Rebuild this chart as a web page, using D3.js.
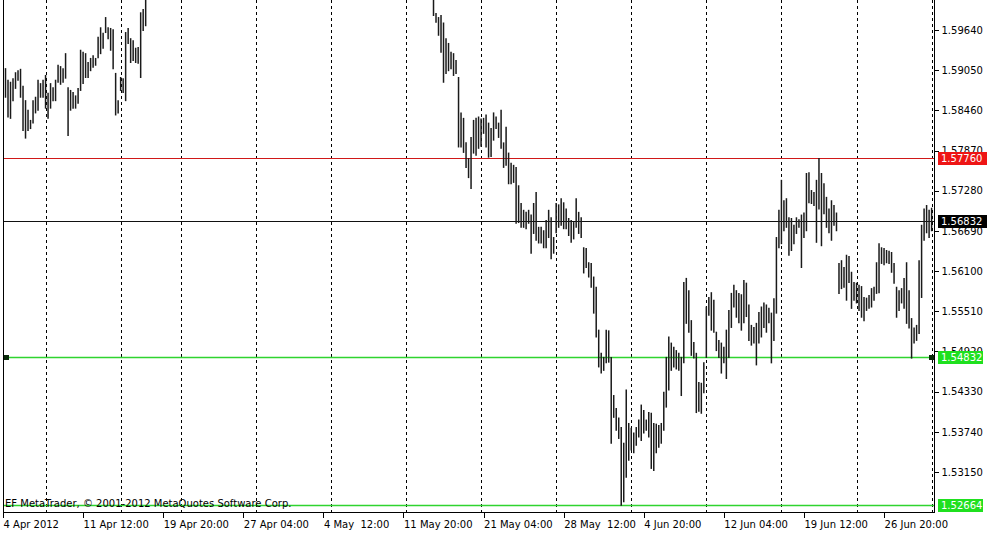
<!DOCTYPE html>
<html>
<head>
<meta charset="utf-8">
<title>GBPUSD H4</title>
<script src="https://cdn.jsdelivr.net/npm/d3@7"></script>
<style>
	body { margin: 0; background: #fff; }
	svg text { font-family: "DejaVu Sans", sans-serif; font-size: 10px; }
</style>
</head>
<body>
<svg id="chart" width="1001" height="538"></svg>
<script>
'use strict';

// H4 bars, one per 4 hours, first bar 4 Apr 2012 00:00
var highs = [
	1.5905, 1.5908, 1.5891, 1.5888, 1.5893, 1.5902, 1.5905, 1.5907, 1.5882, 1.5861,
	1.5847, 1.5832, 1.5861, 1.5866, 1.5891, 1.5886, 1.5891, 1.5898, 1.5872, 1.5886,
	1.5880, 1.5891, 1.5913, 1.5911, 1.5908, 1.5930, 1.5880, 1.5876, 1.5873, 1.5868,
	1.5879, 1.5935, 1.5932, 1.5930, 1.5917, 1.5923, 1.5927, 1.5923, 1.5954, 1.5968,
	1.5960, 1.5983, 1.5968, 1.5967, 1.5965, 1.5901, 1.5861, 1.5895, 1.5893, 1.5961,
	1.5967, 1.5952, 1.5949, 1.5938, 1.5939, 1.5990, 1.5995, 1.6015, 1.6040, 1.6052,
	1.6061, 1.6058, 1.6072, 1.6080, 1.6069, 1.6075, 1.6090, 1.6102, 1.6096, 1.6110,
	1.6118, 1.6105, 1.6099, 1.6085, 1.6092, 1.6107, 1.6121, 1.6130, 1.6126, 1.6140,
	1.6152, 1.6147, 1.6138, 1.6145, 1.6160, 1.6171, 1.6166, 1.6158, 1.6150, 1.6163,
	1.6178, 1.6185, 1.6180, 1.6192, 1.6201, 1.6196, 1.6210, 1.6222, 1.6215, 1.6205,
	1.6212, 1.6228, 1.6240, 1.6251, 1.6245, 1.6258, 1.6262, 1.6249, 1.6255, 1.6270,
	1.6282, 1.6276, 1.6268, 1.6260, 1.6272, 1.6288, 1.6295, 1.6290, 1.6301, 1.6296,
	1.6284, 1.6278, 1.6266, 1.6274, 1.6281, 1.6269, 1.6259, 1.6246, 1.6252, 1.6238,
	1.6230, 1.6241, 1.6250, 1.6236, 1.6225, 1.6218, 1.6229, 1.6214, 1.6202, 1.6195,
	1.6208, 1.6199, 1.6186, 1.6175, 1.6182, 1.6170, 1.6161, 1.6168, 1.6155, 1.6147,
	1.6158, 1.6149, 1.6138, 1.6129, 1.6135, 1.6121, 1.6112, 1.6118, 1.6106, 1.6099,
	1.6108, 1.6095, 1.6086, 1.6091, 1.6080, 1.6072, 1.6078, 1.6066, 1.6059, 1.6064,
	1.6052, 1.6045, 1.6030, 1.5989, 1.5983, 1.5986, 1.5975, 1.5952, 1.5945, 1.5932,
	1.5930, 1.5920, 1.5895, 1.5843, 1.5835, 1.5799, 1.5776, 1.5807, 1.5832, 1.5835,
	1.5837, 1.5834, 1.5835, 1.5840, 1.5828, 1.5820, 1.5843, 1.5837, 1.5828, 1.5847,
	1.5799, 1.5822, 1.5784, 1.5769, 1.5766, 1.5763, 1.5736, 1.5710, 1.5700, 1.5697,
	1.5700, 1.5693, 1.5710, 1.5726, 1.5675, 1.5675, 1.5670, 1.5685, 1.5700, 1.5689,
	1.5660, 1.5710, 1.5708, 1.5717, 1.5711, 1.5702, 1.5688, 1.5685, 1.5682, 1.5717,
	1.5697, 1.5689, 1.5645, 1.5644, 1.5623, 1.5622, 1.5602, 1.5587, 1.5524, 1.5490,
	1.5484, 1.5524, 1.5523, 1.5484, 1.5428, 1.5409, 1.5395, 1.5381, 1.5358, 1.5436,
	1.5387, 1.5380, 1.5373, 1.5381, 1.5392, 1.5414, 1.5406, 1.5392, 1.5403, 1.5402,
	1.5387, 1.5386, 1.5384, 1.5387, 1.5433, 1.5484, 1.5514, 1.5505, 1.5499, 1.5494,
	1.5490, 1.5484, 1.5594, 1.5600, 1.5582, 1.5538, 1.5506, 1.5490, 1.5447, 1.5446,
	1.5476, 1.5558, 1.5572, 1.5579, 1.5568, 1.5521, 1.5509, 1.5505, 1.5499, 1.5524,
	1.5553, 1.5578, 1.5590, 1.5582, 1.5578, 1.5576, 1.5597, 1.5593, 1.5561, 1.5531,
	1.5528, 1.5534, 1.5550, 1.5558, 1.5564, 1.5561, 1.5556, 1.5549, 1.5570, 1.5660,
	1.5700, 1.5744, 1.5714, 1.5717, 1.5689, 1.5688, 1.5678, 1.5689, 1.5686, 1.5693,
	1.5696, 1.5754, 1.5755, 1.5729, 1.5726, 1.5744, 1.5776, 1.5754, 1.5739, 1.5719,
	1.5702, 1.5714, 1.5707, 1.5696, 1.5622, 1.5626, 1.5616, 1.5634, 1.5632, 1.5609,
	1.5594, 1.5593, 1.5590, 1.5588, 1.5572, 1.5571, 1.5575, 1.5585, 1.5587, 1.5623,
	1.5651, 1.5645, 1.5644, 1.5641, 1.5640, 1.5638, 1.5622, 1.5587, 1.5582, 1.5585,
	1.5600, 1.5623, 1.5582, 1.5541, 1.5527, 1.5531, 1.5626, 1.5678, 1.5702, 1.5707,
	1.5700, 1.5703
];

var lows = [
	1.5868, 1.5866, 1.5837, 1.5835, 1.5861, 1.5879, 1.5891, 1.5866, 1.5817, 1.5806,
	1.5817, 1.5820, 1.5828, 1.5843, 1.5847, 1.5866, 1.5866, 1.5850, 1.5835, 1.5850,
	1.5861, 1.5861, 1.5888, 1.5885, 1.5888, 1.5894, 1.5810, 1.5847, 1.5850, 1.5850,
	1.5857, 1.5876, 1.5886, 1.5895, 1.5895, 1.5905, 1.5910, 1.5913, 1.5924, 1.5930,
	1.5938, 1.5961, 1.5952, 1.5935, 1.5908, 1.5840, 1.5843, 1.5876, 1.5873, 1.5861,
	1.5945, 1.5917, 1.5920, 1.5917, 1.5916, 1.5895, 1.5964, 1.5971, 1.6012, 1.6020,
	1.6033, 1.6030, 1.6041, 1.6049, 1.6038, 1.6047, 1.6055, 1.6070, 1.6066, 1.6079,
	1.6088, 1.6072, 1.6061, 1.6050, 1.6058, 1.6074, 1.6090, 1.6098, 1.6101, 1.6110,
	1.6118, 1.6120, 1.6105, 1.6112, 1.6129, 1.6140, 1.6135, 1.6122, 1.6117, 1.6130,
	1.6144, 1.6155, 1.6149, 1.6160, 1.6170, 1.6163, 1.6178, 1.6190, 1.6186, 1.6174,
	1.6181, 1.6195, 1.6207, 1.6219, 1.6212, 1.6225, 1.6230, 1.6218, 1.6224, 1.6236,
	1.6250, 1.6244, 1.6231, 1.6228, 1.6240, 1.6255, 1.6262, 1.6259, 1.6268, 1.6263,
	1.6250, 1.6242, 1.6230, 1.6241, 1.6249, 1.6237, 1.6220, 1.6211, 1.6219, 1.6202,
	1.6197, 1.6209, 1.6218, 1.6204, 1.6189, 1.6185, 1.6196, 1.6180, 1.6168, 1.6162,
	1.6175, 1.6165, 1.6150, 1.6141, 1.6149, 1.6136, 1.6128, 1.6134, 1.6121, 1.6114,
	1.6125, 1.6116, 1.6103, 1.6097, 1.6102, 1.6088, 1.6080, 1.6086, 1.6074, 1.6066,
	1.6076, 1.6061, 1.6054, 1.6058, 1.6048, 1.6040, 1.6045, 1.6035, 1.6028, 1.6031,
	1.6022, 1.6015, 1.5986, 1.5976, 1.5957, 1.5932, 1.5888, 1.5901, 1.5905, 1.5908,
	1.5898, 1.5901, 1.5793, 1.5793, 1.5785, 1.5763, 1.5748, 1.5732, 1.5784, 1.5781,
	1.5791, 1.5794, 1.5813, 1.5793, 1.5778, 1.5779, 1.5803, 1.5820, 1.5807, 1.5791,
	1.5763, 1.5766, 1.5739, 1.5739, 1.5741, 1.5681, 1.5682, 1.5675, 1.5675, 1.5673,
	1.5681, 1.5637, 1.5666, 1.5656, 1.5652, 1.5652, 1.5645, 1.5645, 1.5660, 1.5629,
	1.5637, 1.5667, 1.5675, 1.5678, 1.5673, 1.5673, 1.5663, 1.5653, 1.5658, 1.5675,
	1.5666, 1.5660, 1.5608, 1.5616, 1.5602, 1.5587, 1.5549, 1.5514, 1.5470, 1.5461,
	1.5465, 1.5476, 1.5477, 1.5358, 1.5396, 1.5377, 1.5365, 1.5267, 1.5272, 1.5308,
	1.5333, 1.5348, 1.5344, 1.5355, 1.5367, 1.5362, 1.5373, 1.5377, 1.5367, 1.5321,
	1.5318, 1.5344, 1.5352, 1.5358, 1.5377, 1.5411, 1.5436, 1.5465, 1.5470, 1.5467,
	1.5465, 1.5428, 1.5476, 1.5534, 1.5521, 1.5487, 1.5483, 1.5403, 1.5405, 1.5402,
	1.5432, 1.5484, 1.5546, 1.5524, 1.5521, 1.5494, 1.5484, 1.5461, 1.5476, 1.5453,
	1.5484, 1.5528, 1.5558, 1.5543, 1.5535, 1.5524, 1.5535, 1.5544, 1.5509, 1.5502,
	1.5505, 1.5473, 1.5505, 1.5514, 1.5528, 1.5521, 1.5535, 1.5476, 1.5509, 1.5549,
	1.5645, 1.5651, 1.5670, 1.5675, 1.5634, 1.5641, 1.5651, 1.5666, 1.5675, 1.5616,
	1.5660, 1.5670, 1.5711, 1.5710, 1.5707, 1.5653, 1.5702, 1.5648, 1.5695, 1.5675,
	1.5667, 1.5656, 1.5678, 1.5670, 1.5578, 1.5585, 1.5587, 1.5568, 1.5594, 1.5556,
	1.5568, 1.5564, 1.5553, 1.5543, 1.5538, 1.5553, 1.5556, 1.5558, 1.5568, 1.5578,
	1.5579, 1.5622, 1.5620, 1.5623, 1.5622, 1.5609, 1.5593, 1.5543, 1.5553, 1.5564,
	1.5556, 1.5534, 1.5527, 1.5483, 1.5505, 1.5509, 1.5519, 1.5572, 1.5656, 1.5667,
	1.5660, 1.5670
];

var dateTickBars = [0, 32, 64, 96, 128, 160, 192, 224, 256, 288, 320, 352];
var dateLabels = ['4 Apr 2012', '11 Apr 12:00', '19 Apr 20:00', '27 Apr 04:00', '4 May  12:00',
	'11 May 20:00', '21 May 04:00', '28 May  12:00', '4 Jun 20:00', '12 Jun 04:00',
	'19 Jun 12:00', '26 Jun 20:00'];

// first bar of each week (grid)
var weekStartBars = [17, 47, 71, 101, 131, 161, 191, 221, 251, 281, 311, 341, 371];

var priceTicks = [1.59640, 1.59050, 1.58460, 1.57870, 1.57280, 1.56690,
	1.56100, 1.55510, 1.54920, 1.54330, 1.53740, 1.53150];

// horizontal lines: resistance, last price, support, low
var levelValues = [1.57760, 1.56832, 1.54832, 1.52664];

var levelLine = ['#d01818', '#111', '#2fd42f', '#2fd42f'];
var levelBox = ['#ee1515', '#000', '#1fe01f', '#1fe01f'];

var svg = d3.select('#chart');
var left = 3, right = 934, bottom = 512;

var x = d3.scaleLinear()
	.domain([0, 371])
	.range([3, 931.6]);

var y = d3.scaleLinear()
	.domain([1.5964, 1.5315])
	.range([30, 472]);

var px = function(v) {
	return Math.round(v) + 0.5;
};

svg.append('rect')
	.attr('width', 1001)
	.attr('height', 538)
	.attr('fill', '#fff');

svg.append('clipPath')
	.attr('id', 'plotClip')
	.append('rect')
	.attr('x', left)
	.attr('y', 0)
	.attr('width', right - left)
	.attr('height', bottom);

var plot = svg.append('g')
	.attr('clip-path', 'url(#plotClip)');

// weekly grid
plot.selectAll('line.grid')
	.data(weekStartBars)
	.enter()
	.append('line')
	.attr('class', 'grid')
	.attr('x1', function(d) { return px(x(d)); })
	.attr('x2', function(d) { return px(x(d)); })
	.attr('y1', 0)
	.attr('y2', bottom)
	.attr('stroke', '#000')
	.attr('stroke-dasharray', '3,3')
	.attr('shape-rendering', 'crispEdges');

// horizontal objects
plot.selectAll('line.level')
	.data(levelValues)
	.enter()
	.append('line')
	.attr('class', 'level')
	.attr('x1', left)
	.attr('x2', right)
	.attr('y1', function(d) { return px(y(d)); })
	.attr('y2', function(d) { return px(y(d)); })
	.attr('stroke', function(d, i) { return levelLine[i]; })
	.attr('stroke-width', function(d, i) { return i < 2 ? 1 : 1.4; });

// bars (high-low)
plot.selectAll('line.bar')
	.data(highs)
	.enter()
	.append('line')
	.attr('class', 'bar')
	.attr('x1', function(d, i) { return x(i); })
	.attr('x2', function(d, i) { return x(i); })
	.attr('y1', function(d) { return y(d); })
	.attr('y2', function(d, i) { return y(lows[i]) + 1; })
	.attr('stroke', '#1a1a1a')
	.attr('stroke-width', 1.5);

plot.append('text')
	.attr('x', 5)
	.attr('y', 507)
	.attr('fill', '#000')
	.text('EF MetaTrader, \u00a9 2001-2012 MetaQuotes Software Corp.');

// handles of the selected support line
svg.selectAll('rect.handle')
	.data([6, 931])
	.enter()
	.append('rect')
	.attr('class', 'handle')
	.attr('x', function(d) { return d - 2; })
	.attr('y', Math.round(y(levelValues[2])) - 2)
	.attr('width', 5)
	.attr('height', 5)
	.attr('fill', '#0a2a0a');

// frame
svg.append('path')
	.attr('d', 'M' + (left + 0.5) + ',0V' + (bottom + 0.5) + 'H' + (right + 0.5) + 'V0')
	.attr('fill', 'none')
	.attr('stroke', '#000')
	.attr('shape-rendering', 'crispEdges');

var xAxis = d3.axisBottom(x)
	.tickValues(dateTickBars)
	.tickFormat(function(d, i) { return dateLabels[i]; })
	.tickSize(5)
	.tickPadding(3);

svg.append('g')
	.attr('transform', 'translate(0,' + (bottom + 0.5) + ')')
	.call(xAxis)
	.call(function(g) {
		g.select('.domain').remove();
		g.selectAll('text')
			.attr('text-anchor', 'start')
			.attr('font-family', null)
			.attr('font-size', null)
			.attr('fill', '#000')
			.style('white-space', 'pre');
		g.selectAll('line').attr('shape-rendering', 'crispEdges');
	});

var yAxis = d3.axisRight(y)
	.tickValues(priceTicks)
	.tickFormat(d3.format('.5f'))
	.tickSize(4)
	.tickPadding(3);

svg.append('g')
	.attr('transform', 'translate(' + (right + 0.5) + ',0)')
	.call(yAxis)
	.call(function(g) {
		g.select('.domain').remove();
		g.selectAll('text')
			.attr('font-family', null)
			.attr('font-size', null)
			.attr('fill', '#000');
		g.selectAll('line').attr('shape-rendering', 'crispEdges');
	});

// price labels of the horizontal objects
var tags = svg.selectAll('g.tag')
	.data(levelValues)
	.enter()
	.append('g')
	.attr('class', 'tag')
	.attr('transform', function(d) { return 'translate(938,' + Math.round(y(d)) + ')'; });

tags.append('rect')
	.attr('x', 0)
	.attr('y', -6)
	.attr('width', function(d, i) { return i < 2 ? 49 : 45; })
	.attr('height', 13)
	.attr('fill', function(d, i) { return levelBox[i]; });

tags.append('text')
	.attr('x', 3)
	.attr('y', 4)
	.attr('fill', '#fff')
	.text(function(d) { return d3.format('.5f')(d); });
</script>
</body>
</html>
